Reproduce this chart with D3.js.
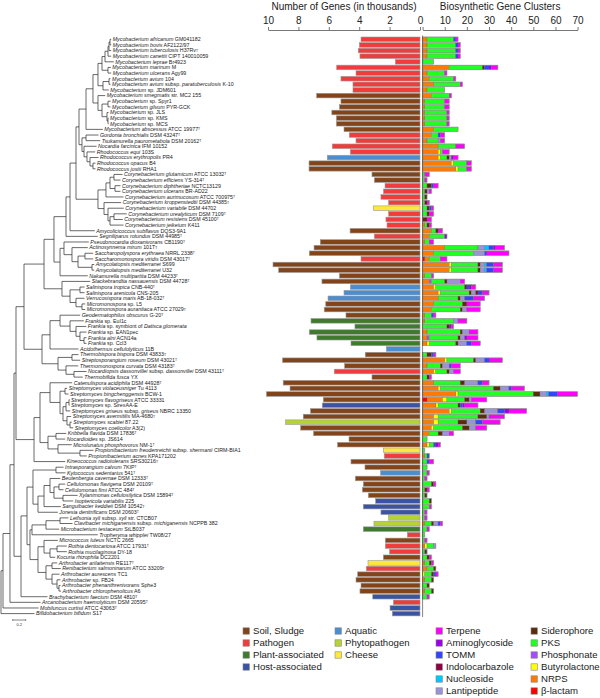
<!DOCTYPE html>
<html><head><meta charset="utf-8">
<script src="https://cdn.jsdelivr.net/npm/d3@7"></script>
<style>
body{margin:0;background:#fff}
svg{display:block}
text{font-family:"Liberation Sans",Arial,Helvetica,sans-serif}
</style>
</head><body>
<svg id="chart" width="600" height="698"></svg>
<script>
// ---------------- DATA ----------------
const species = [
"*Mycobacterium africanum* GM041182","*Mycobacterium bovis* AF2122/97","*Mycobacterium tuberculosis* H37Rv^T",
"*Mycobacterium canettii* CIPT 140010059","*Mycobacterium leprae* Br4923","*Mycobacterium marinum* M",
"*Mycobacterium ulcerans* Agy99","*Mycobacterium avium* 104","*Mycobacterium avium* subsp. *paratuberculosis* K-10",
"*Mycobacterium* sp. JDM601","*Mycobacterium smegmatis* str. MC2 155","*Mycobacterium* sp. Spyr1",
"*Mycobacterium gilvum* PYR-GCK","*Mycobacterium* sp. JLS","*Mycobacterium* sp. KMS","*Mycobacterium* sp. MCS",
"*Mycobacterium abscessus* ATCC 19977^T","*Gordonia bronchialis* DSM 43247^T","*Tsukamurella paurometabola* DSM 20162^T",
"*Nocardia farcinica* IFM 10152","*Rhodococcus equi* 103S","*Rhodococcus erythropolis* PR4","*Rhodococcus opacus* B4",
"*Rhodococcus jostii* RHA1","*Corynebacterium glutamicum* ATCC 13032^T","*Corynebacterium efficiens* YS-314^T",
"*Corynebacterium diphtheriae* NCTC13129","*Corynebacterium ulcerans* BR-AD22","*Corynebacterium aurimucosum* ATCC 700975^T",
"*Corynebacterium kroppenstedtii* DSM 44385^T","*Corynebacterium variabile* DSM 44702","*Corynebacterium urealyticum* DSM 7109^T",
"*Corynebacterium resistens* DSM 45100^T","*Corynebacterium jeikeium* K411","*Amycolicicoccus subflavus* DQS3-9A1",
"*Segniliparus rotundus* DSM 44985^T","*Pseudonocardia dioxanivorans* CB1190^T","*Actinosynnema mirum* 101T^T",
"*Saccharopolyspora erythraea* NRRL 2338^T","*Saccharomonospora viridis* DSM 43017^T","*Amycolatopsis mediterranei* S699",
"*Amycolatopsis mediterranei* U32","*Nakamurella multipartita* DSM 44233^T","*Stackebrandtia nassauensis* DSM 44728^T",
"*Salinispora tropica* CNB-440^T","*Salinispora arenicola* CNS-205","*Verrucosispora maris* AB-18-032^T",
"*Micromonospora* sp. L5","*Micromonospora aurantiaca* ATCC 27029^T","*Geodermatophilus obscurus* G-20^T",
"*Frankia* sp. EuI1c","*Frankia* sp. symbiont of *Datisca glomerata*","*Frankia* sp. EAN1pec","*Frankia alni* ACN14a",
"*Frankia* sp. CcI3","*Acidothermus cellulolyticus* 11B","*Thermobispora bispora* DSM 43833^T",
"*Streptosporangium roseum* DSM 43021^T","*Thermomonospora curvata* DSM 43183^T",
"*Nocardiopsis dassonvillei* subsp. *dassonvillei* DSM 43111^T","*Thermobifida fusca* YX",
"*Catenulispora acidiphila* DSM 44928^T","*Streptomyces violaceusniger* Tu 4113","*Streptomyces bingchenggensis* BCW-1",
"*Streptomyces flavogriseus* ATCC 33331","*Streptomyces* sp. SirexAA-E","*Streptomyces griseus* subsp. *griseus* NBRC 13350",
"*Streptomyces avermitilis* MA-4680^T","*Streptomyces scabiei* 87.22","*Streptomyces coelicolor* A3(2)",
"*Kribbella flavida* DSM 17836^T","*Nocardioides* sp. JS614","*Microlunatus phosphovorus* NM-1^T",
"*Propionibacterium freudenreichii* subsp. *shermanii* CIRM-BIA1","*Propionibacterium acnes* KPA171202",
"*Kineococcus radiotolerans* SRS30216^T","*Intrasporangium calvum* 7KIP^T","*Kytococcus sedentarius* 541^T",
"*Beutenbergia cavernae* DSM 12333^T","*Cellulomonas flavigena* DSM 20109^T","*Cellulomonas fimi* ATCC 484^T",
"*Xylanimonas cellulosilytica* DSM 15894^T","*Isoptericola variabilis* 225","*Sanguibacter keddieii* DSM 10542^T",
"*Jonesia denitrificans* DSM 20603^T","*Leifsonia xyli* subsp. *xyli* str. CTCB07",
"*Clavibacter michiganensis* subsp. *michiganensis* NCPPB 382","*Microbacterium testaceum* StLB037",
"*Tropheryma whipplei* TW08/27","*Micrococcus luteus* NCTC 2665","*Rothia dentocariosa* ATCC 17931^T",
"*Rothia mucilaginosa* DY-18","*Kocuria rhizophila* DC2201","*Arthrobacter arilaitensis* RE117^T",
"*Renibacterium salmoninarum* ATCC 33209^T","*Arthrobacter aurescens* TC1","*Arthrobacter* sp. FB24",
"*Arthrobacter phenanthrenivorans* Sphe3","*Arthrobacter chlorophenolicus* A6","*Brachybacterium faecium* DSM 4810^T",
"*Arcanobacterium haemolyticum* DSM 20595^T","*Mobiluncus curtisii* ATCC 43063^T","*Bifidobacterium bifidum* S17"
];

// distance from root of every tip (substitutions/site)
const tipDepth = [
1.695,1.695,1.695,1.695,1.735,1.689,1.695,1.685,1.685,1.658,1.603,1.685,1.685,1.654,1.654,1.654,1.566,1.5,1.526,1.469,
1.449,1.5,1.454,1.454,1.869,1.838,1.838,1.838,1.885,1.849,1.889,1.935,1.874,1.885,1.443,1.489,1.351,1.335,1.418,1.418,
1.434,1.434,1.335,1.372,1.285,1.285,1.285,1.295,1.295,1.218,1.274,1.311,1.315,1.315,1.315,1.192,1.192,1.218,1.188,1.315,
1.258,1.095,1.018,1.038,1.054,1.054,1.065,1.08,1.089,1.111,1.003,0.988,1.089,1.423,1.32,0.988,0.962,0.992,0.911,0.988,
0.962,1.177,1.111,0.92,0.874,1.038,1.1,0.895,1.489,0.874,1.012,1.012,0.834,0.865,0.92,0.9,0.915,0.915,0.923,0.715,
0.608,0.577,0.515
];

// topology: [nodeDepth, child, child] ; numbers = tip index
const treeMyco = [1.308,[1.415,
  [1.492,[1.554,[1.6,[1.646,[1.662,[1.677,0,1],2],3],4],[1.646,5,6]],[1.569,[1.662,7,8],9]],
  [1.492,10,[1.554,[1.646,11,12],[1.631,13,[1.646,14,15]]]]],16];
const treeCoryneales = [0.815,
  [1.0,[1.062,[1.154,
     [1.2,treeMyco,[1.246,[1.308,17,18],[1.277,19,[1.323,20,[1.369,21,[1.415,22,23]]]]]],
     [1.492,[1.615,[1.677,[1.738,24,25],[1.754,26,27]],28],[1.585,29,[1.646,30,[1.677,[1.738,31,32],33]]]]],34],35],
  [0.908,[0.969,36,[1.092,37,[1.185,[1.292,38,39],[1.4,40,41]]]],42]];
const treeUpperA = [0.354,
  [0.662,treeCoryneales,[0.938,43,[1.062,[1.215,44,45],[1.154,46,[1.246,47,48]]]]],
  [0.631,[0.754,[0.908,49,[1.062,50,[1.154,51,[1.215,52,[1.277,53,54]]]]],55],
         [0.877,[1.092,56,57],[1.0,58,[1.123,59,60]]]]];
const treeUpperB = [0.508,[0.6,
  [0.754,61,[0.908,[0.985,62,63],[0.954,[1.0,[1.046,64,65],66],[1.015,67,[1.062,68,69]]]]],
  [0.723,[0.846,70,71],[0.877,72,[1.215,73,74]]]],75];
const treeMicrococcales = [0.4,
  [0.492,[0.846,76,77],[0.569,[0.662,[0.754,78,[0.815,[0.892,79,80],[0.954,81,82]]],83],84]],
  [0.446,[0.477,[0.692,[0.908,85,86],87],88],
         [0.569,[0.662,89,[0.754,[0.862,90,91],92]],[0.692,[0.785,93,94],[0.785,95,[0.862,96,[0.892,97,98]]]]]]];
const tree = [0,[0.031,[0.138,[0.2,[0.231,treeUpperA,treeUpperB],[0.308,treeMicrococcales,99]],100],101],102];

// number of genes (thousands)
const genes = [
3.88,3.99,4.06,3.95,1.62,5.48,4.21,5.2,4.41,4.41,6.8,5.2,5.3,5.8,5.5,5.5,5.0,4.65,4.21,5.77,
4.58,6.1,7.3,7.3,3.16,3.0,2.3,2.4,2.57,2.06,3.07,2.06,2.24,2.17,4.6,3.0,6.56,6.97,7.28,3.88,
9.67,9.3,5.3,6.45,4.58,5.0,6.05,6.2,6.3,4.87,7.17,4.28,7.28,6.78,4.54,2.21,3.6,9.04,4.96,5.64,
3.16,9.0,8.55,10.1,6.36,6.43,7.2,7.68,8.84,7.85,7.0,4.67,5.42,2.41,2.35,4.54,3.62,2.59,4.25,3.73,
3.79,3.4,2.92,3.73,2.57,2.06,3.03,3.73,0.83,2.28,2.28,2.0,2.41,3.42,3.53,4.1,4.21,3.88,3.95,3.11,
1.75,1.97,1.82
];

// habitat code per genome
const habitat = ("PPPPPPPPPP"+"SSSSSSS"+"PPPP"+"A"+"SSSS"+"PPPP"+"C"+"PPP"+"S"+"P"+"SSS"+"P"+"SSSS"+"AAA"+"SSS"+
 "LLLLL"+"A"+"SSS"+"P"+"SSSSS"+"H"+"SS"+"Y"+"SSSS"+"C"+"P"+"SS"+"A"+"SSSS"+"HHH"+"YY"+"L"+"P"+"S"+"PP"+"S"+"C"+"P"+
 "SSSS"+"H"+"P"+"HH").split("");

// biosynthetic gene cluster counts per genome
const clusters = [
"N2 P12 T1 Tp1","N2 P13 T1 Tp1","N2 P13 T1 Tp1","N2 P13 T1 Tp1","P5","N12 P15 S1 T2 A1 Tp3","N2 P8 Tp1","N3 P11 Tp1",
"N5 P12 Tp1","N2 P8","N4 P8 Tp1","N1 P9 Tp2","N1 P9 Tp2","N1 P10 Tp1","N1 P10 Tp1","N1 P10 Tp1","N5 P11",
"N4 P3 T1 Tp2","N2 P5 L1 Tp2","N7 P8 Tp4","N7 B1 P1 Tp3","N7 B1 P3 S1 L1 A1 Tp2","N13 B1 P6 Tp2","N15 B1 P4 Tp2",
"P1 Tp2","P1 Tp1","P2 S2 T1 Tp2","P1 S1 L1 Tp1","P1 S1","P1 S1 Tp1","P2 S1 T1 Tp1","P2 S1 Tp2","S2 Tp2","N1 P1 S1 Tp1",
"N4 P2 S1 Tp2","N3 P7 A1","N1 P2 Tp2","N10 P15 L3 Nu2 T2 A1 Tp4","N5 P18 L5 T1 Tp10","b1 N2 P5 Tp3",
"N12 B1 P12 S1 L2 Nu1 T3 Tp4","N12 B1 P12 S1 L2 Nu1 T3 Tp4","N1 P3 Tp1","N3 Ph1 P6 S1 L6 Tp2",
"N5 B1 P13 S1 T1 A1 Tp2","N7 B1 P13 S1 L2 I1 T2 Tp3","N7 P9 S1 L2 T4 Tp5","N5 P13 S2 Tp6","N4 P13 S1 L2 Tp6",
"N1 P3 T1 Tp1","N1 P13 L2 Tp4","P11 S1 A1 Tp1","N2 P15 S1 L3 Tp4","N2 Ph1 P13 S1 L2 A1 Tp5","N2 B1 P12 S1 L4 T2 Tp4",
"","P2 S2 T1 Tp1","N10 B1 P12 S1 L4 T2 Tp6","N2 P6 S1 L3 T1 Tp4","N5 B1 P5 S1 L2 Tp3","P2 S1 Tp1",
"N5 P12 S2 L6 T2 Tp3","N7 B1 P24 S3 L4 T1 Tp6","N15 B1 P34 S3 L3 Nu1 T4 Tp9","b2 N7 B2 P8 S2 L1 Tp7",
"N6 B1 P9 S1 T1 A1 Tp6","N12 B1 P13 S2 L6 T3 A2 Tp8","N5 B2 P18 S4 L1 Tp7","N5 B2 P9 S4 L4 T3 Tp8",
"N4 B1 P13 S3 L3 Tp5","N3 P4 S2 L3 Tp2","P2","N2 B1 P2 T1 A1 Tp1","P1","N1 P1 T1","P2 T1 Tp2","P2","P2 Tp1",
"P1 Tp1","P4 S1 Tp1","P1 S1 Tp1","P1 S1","P3 S1","P3 Tp1","P1 Tp1","P1 Tp1","N1 P3 S1 L2 T1 Tp1","P2 Tp1","P1",
"P1 Tp1","N1 B1 P3 L1","P1 S1","P2 S1 Tp1","N1 P2 S1 Tp1","N2 P3 S1","B1 P3 S1 T1 Tp1","N1 P3 S1","P2 S1",
"N1 P3 S1","P2 Tp1","","",""
];

const habitatKeys = ["S","P","L","H","A","Y","C"];
const habitatNames = ["Soil, Sludge","Pathogen","Plant-associated","Host-associated","Aquatic","Phytopathogen","Cheese"];
const habitatColors = ["#834419","#f03c3c","#3f7a2d","#3c52a3","#4a8dd0","#b5d334","#ffe838"];

// stacking order (left to right)
const clusterKeys  = ["b","N","B","Ph","P","S","L","Nu","I","T","A","Tp"];
const clusterNames = ["β-lactam","NRPS","Butyrolactone","Phosphonate","PKS","Siderophore","Lantipeptide","Nucleoside",
                      "Indolocarbazole","TOMM","Aminoglycoside","Terpene"];
const clusterColors = ["#ff0000","#ff7a00","#ffff00","#a64dff","#22ff22","#5a2c0a","#9a93d6","#00c8ff",
                       "#8b0040","#3344ff","#9900e6","#ff00ff"];
// legend column order for clusters
const clusterLegendCols = [["Tp","A","T","I","Nu","L"],["S","P","Ph","B","N","b"]];

const geneTicks = [10,8,6,4,2,0];
const clusterTicks = [0,10,20,30,40,50,60,70];
const scaleBarLength = 0.2;

// ---------------- DRAW ----------------
const svg = d3.select("#chart");
const n = species.length;
const y = d3.scalePoint().domain(d3.range(n)).range([39.3, 613.6]);
const xTree = d3.scaleLinear().domain([0, 1]).range([1, 66]);
const xGene = d3.scaleLinear().domain([0, 10]).range([420, 268]);
const xClu = d3.scaleLinear().domain([0, 70]).range([422.6, 577.6]);
const barH = 4.6;
const hColor = d3.scaleOrdinal(habitatKeys, habitatColors);
const cColor = d3.scaleOrdinal(clusterKeys, clusterColors);

// ----- tree -----
function build(nd){
  if (typeof nd === "number") return {tip: nd, depth: tipDepth[nd]};
  return {depth: nd[0], children: nd.slice(1).map(build)};
}
const root = d3.hierarchy(build(tree));
root.eachAfter(d => {
  if (d.data.tip !== undefined) d.yy = y(d.data.tip);
  else d.yy = (d.children[0].yy + d.children[d.children.length-1].yy) / 2;
});
const gTree = svg.append("g").attr("stroke", "#2a2a2a").attr("stroke-width", 0.7).attr("fill", "none");
root.descendants().forEach(d => {
  if (d.parent) {
    gTree.append("line").attr("x1", xTree(d.parent.data.depth)).attr("x2", xTree(d.data.depth))
      .attr("y1", d.yy).attr("y2", d.yy);
  }
  if (d.children) {
    gTree.append("line").attr("x1", xTree(d.data.depth)).attr("x2", xTree(d.data.depth))
      .attr("y1", d.children[0].yy).attr("y2", d.children[d.children.length-1].yy);
  }
});

// labels
const gLab = svg.append("g").attr("font-size", 5.3).attr("fill", "#1a1a1a");
species.forEach((s, i) => {
  const t = gLab.append("text").attr("x", xTree(tipDepth[i]) + 1.5).attr("y", y(i)).attr("dy", "0.35em");
  let italic = false;
  s.split("*").forEach(part => {
    if (part.length) {
      const m = part.split("^T");
      if (m[0].length) t.append("tspan").attr("font-style", italic ? "italic" : "normal").text(m[0]);
      if (m.length > 1) {
        t.append("tspan").attr("font-size", 3.4).attr("dy", "-0.25em").text("T");
      }
    }
    italic = !italic;
  });
});

// scale bar
const sb = svg.append("g");
sb.append("line").attr("x1", xTree(0.18)).attr("x2", xTree(0.18 + scaleBarLength)).attr("y1", 620).attr("y2", 620)
  .attr("stroke", "#333").attr("stroke-width", 0.6);
[0.18, 0.18 + scaleBarLength].forEach(v => sb.append("line").attr("x1", xTree(v)).attr("x2", xTree(v))
  .attr("y1", 619).attr("y2", 621).attr("stroke", "#333").attr("stroke-width", 0.5));
sb.append("text").attr("x", xTree(0.18 + scaleBarLength/2)).attr("y", 625.5).attr("text-anchor", "middle")
  .attr("font-size", 4).attr("fill", "#333").text(scaleBarLength);

// ----- gene bars -----
svg.append("g").selectAll("rect").data(genes).join("rect")
  .attr("x", d => xGene(d)).attr("width", d => xGene(0) - xGene(d))
  .attr("y", (d, i) => y(i) - barH/2).attr("height", barH)
  .attr("fill", (d, i) => hColor(habitat[i])).attr("stroke", "#9a9a9a").attr("stroke-width", 0.6);

// ----- cluster bars -----
const gClu = svg.append("g");
clusters.forEach((str, i) => {
  const counts = {};
  str.split(" ").filter(Boolean).forEach(tok => {
    const m = tok.match(/^([A-Za-z]+)(\d+)$/);
    counts[m[1]] = +m[2];
  });
  let acc = 0;
  clusterKeys.forEach(k => {
    const v = counts[k] || 0;
    if (v > 0) {
      gClu.append("rect").attr("x", xClu(acc)).attr("width", xClu(acc + v) - xClu(acc))
        .attr("y", y(i) - barH/2).attr("height", barH).attr("fill", cColor(k))
        .attr("stroke", "#555").attr("stroke-width", 0.25);
      acc += v;
    }
  });
  if (acc > 0) {
    gClu.append("rect").attr("x", xClu(0)).attr("width", xClu(acc) - xClu(0))
      .attr("y", y(i) - barH/2).attr("height", barH).attr("fill", "none")
      .attr("stroke", "#999").attr("stroke-width", 0.6);
  }
});
// zero line of cluster panel
svg.append("line").attr("x1", xClu(0)).attr("x2", xClu(0)).attr("y1", 35.5).attr("y2", 617)
  .attr("stroke", "#333").attr("stroke-width", 0.6);

// ----- axes -----
function styleAxis(g){
  g.selectAll("path").attr("stroke", "#555").attr("stroke-width", 0.8);
  g.selectAll("line").attr("stroke", "#555").attr("stroke-width", 0.8);
  g.selectAll("text").attr("font-size", 10).attr("fill", "#222")
    .attr("font-family", "'Liberation Sans',Arial,sans-serif");
}
svg.append("g").attr("transform", "translate(0,30)")
  .call(d3.axisTop(xGene).tickValues(geneTicks).tickSize(3).tickSizeOuter(0).tickPadding(3).tickFormat(d3.format("d")))
  .call(styleAxis);
// the shared "0" is labelled once (by the gene axis)
svg.append("g").attr("transform", "translate(0,30)")
  .call(d3.axisTop(xClu).tickValues(clusterTicks).tickSize(3).tickSizeOuter(0).tickPadding(3)
    .tickFormat(d => d === 0 ? "" : d3.format("d")(d)))
  .call(styleAxis);
svg.append("text").attr("x", (xGene(0) + xGene(10))/2).attr("y", 9.5).attr("text-anchor", "middle")
  .attr("font-size", 10).attr("fill", "#222").text("Number of Genes (in thousands)");
svg.append("text").attr("x", (xClu(0) + xClu(70))/2).attr("y", 9.5).attr("text-anchor", "middle")
  .attr("font-size", 10).attr("fill", "#222").text("Biosynthetic Gene Clusters");

// ----- legends -----
const legY = d3.scaleLinear().domain([0, 1]).range([631, 643]);
const gLeg = svg.append("g").attr("font-size", 9.6).attr("fill", "#222");
function legendItem(x, row, color, label){
  gLeg.append("rect").attr("x", x).attr("y", legY(row) - 3.2).attr("width", 6.4).attr("height", 6.4)
    .attr("fill", color).attr("stroke", "#888").attr("stroke-width", 0.6);
  gLeg.append("text").attr("x", x + 10).attr("y", legY(row)).attr("dy", "0.35em").text(label);
}
const habCols = [[0,1,2,3],[4,5,6]];
const habX = [243, 335];
habCols.forEach((col, c) => col.forEach((hi, r) => legendItem(habX[c], r, habitatColors[hi], habitatNames[hi])));
const cluX = [436, 531];
clusterLegendCols.forEach((col, c) => col.forEach((k, r) => {
  const idx = clusterKeys.indexOf(k);
  legendItem(cluX[c], r, clusterColors[idx], clusterNames[idx]);
}));
</script>
</body></html>
